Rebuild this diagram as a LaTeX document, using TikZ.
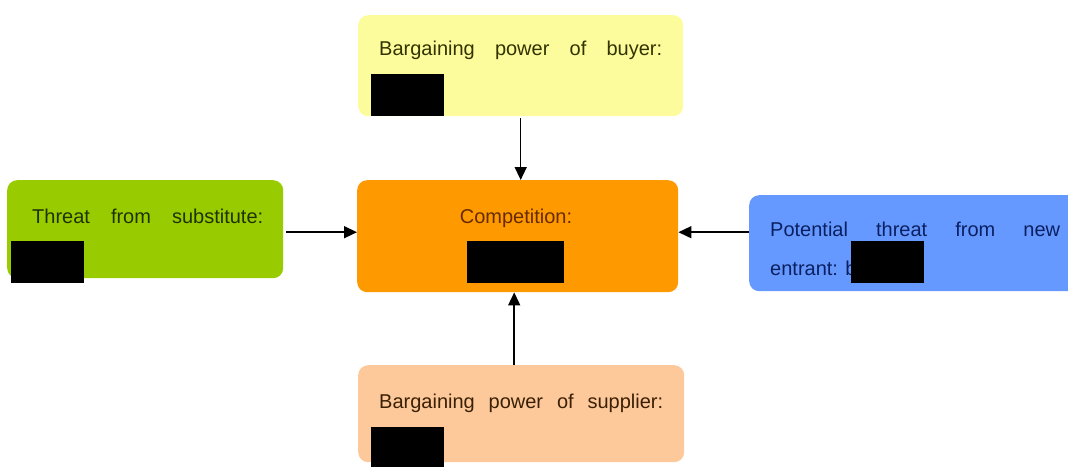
\documentclass[tikz,border=0pt]{standalone}
\usepackage{fontspec}
\setmainfont{Liberation Sans}
\usetikzlibrary{arrows.meta,calc}
\definecolor{cyellow}{HTML}{FCFC9C}
\definecolor{cgreen}{HTML}{99CC00}
\definecolor{corange}{HTML}{FF9900}
\definecolor{cblue}{HTML}{6699FF}
\definecolor{cpeach}{HTML}{FDC99A}
\definecolor{tyellow}{HTML}{333300}
\definecolor{tgreen}{HTML}{1F3300}
\definecolor{torange}{HTML}{662B00}
\definecolor{tblue}{HTML}{0A2060}
\definecolor{tpeach}{HTML}{3A2005}
\begin{document}
\begin{tikzpicture}[x=1pt,y=-1pt,
  font=\fontsize{20}{24}\selectfont,
  box/.style={rounded corners=10pt, inner sep=0pt, anchor=north west, draw=none},
  label/.style={anchor=base west, inner sep=0pt},
  redact/.style={fill=black, inner sep=0pt, anchor=north west, minimum width=73pt, minimum height=42pt},
  arr/.style={-{Triangle[length=13pt,width=12pt]}, line width=1.5pt, black}]
\useasboundingbox (0,0) rectangle (1068,466);
% boxes
\node[box, fill=cyellow, minimum width=325pt, minimum height=101pt] (buyer) at (358,15) {};
\node[box, fill=cgreen, minimum width=276pt, minimum height=98pt] (subst) at (7,180) {};
\node[box, fill=corange, minimum width=321pt, minimum height=112pt] (comp) at (357,180) {};
\node[box, fill=cblue, minimum width=340pt, minimum height=96pt] (entrant) at (749,195) {};
\node[box, fill=cpeach, minimum width=326pt, minimum height=97pt] (supplier) at (358,365) {};
% texts
\node[label, text=tyellow] (tbuyer) at (379,55) {\makebox[283pt][s]{Bargaining power of buyer:}};
\node[label, text=tgreen] (tsubst) at (32,223) {\makebox[231pt][s]{Threat from substitute:}};
\node[anchor=base, inner sep=0pt, text=torange] (tcomp) at (516,223) {Competition:};
\node[label, text=tblue] (tentrant) at (770,236) {\makebox[290pt][s]{Potential threat from new}};
\node[label, text=tblue] (tentrant2) at (770,275) {entrant: b};
\node[label, text=tpeach] (tsupplier) at (379,408) {\makebox[284pt][s]{Bargaining power of supplier:}};
% redactions
\node[redact] (r1) at (371,74) {};
\node[redact] (r2) at (11,241) {};
\node[redact, minimum width=97pt] (r3) at (467,241) {};
\node[redact] (r4) at (851,241) {};
\node[redact, minimum height=40pt] (r5) at (371,427) {};
% arrows
\draw[arr] ([yshift=-2pt]buyer.south) -- (buyer.south |- comp.north);
\draw[arr] ([xshift=-7pt]supplier.north) -- ([xshift=-7pt]supplier.north |- comp.south);
\draw[arr] ([xshift=3pt,yshift=-3pt]subst.east) -- ([yshift=-3pt]subst.east -| comp.west);
\draw[arr] ([yshift=-3pt]subst.east -| entrant.west) -- ([yshift=-3pt]subst.east -| comp.east);
\end{tikzpicture}
\end{document}
